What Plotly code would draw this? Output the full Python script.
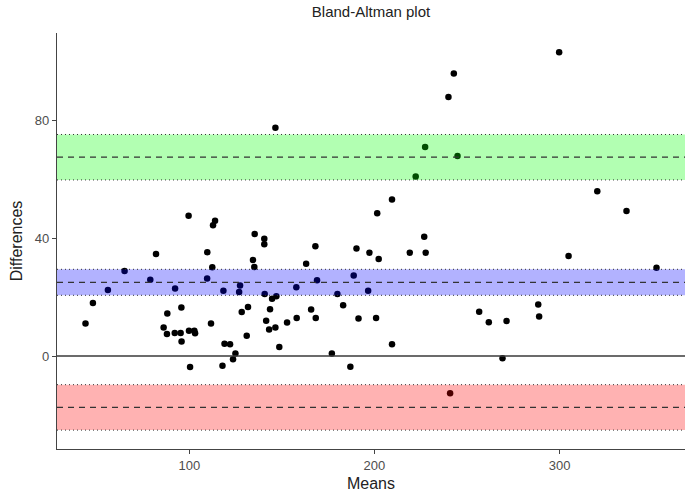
import plotly.graph_objects as go

# Data
means = [99.6, 113.9, 112.8, 82.0, 109.7, 65.0, 112.4, 78.9, 109.6, 56.0,
         92.3, 118.4, 47.9, 88.1, 95.7, 43.9, 111.7, 86.1, 87.9, 92.1,
         95.3, 99.8, 102.7, 103.1, 95.8, 119.0, 122.0, 100.4, 117.9, 201.5,
         135.3, 140.5, 140.5, 168.1, 190.3, 197.3, 202.3, 134.4, 135.1, 163.1,
         188.8, 169.0, 127.4, 126.9, 157.8, 140.7, 196.6, 180.0, 144.7, 147.0,
         131.7, 128.3, 143.6, 165.8, 183.1, 141.5, 143.1, 146.5, 152.8, 158.0,
         168.3, 191.4, 200.9, 131.0, 148.6, 124.9, 123.6, 177.0, 187.0, 209.5,
         209.5, 226.9, 219.1, 227.7, 256.6, 261.8, 271.4, 288.5, 289.0, 269.2,
         320.4, 336.2, 304.9, 352.4, 299.8, 242.9, 240.0, 227.4, 244.9, 222.3,
         146.5, 240.9]
diffs = [47.6, 45.9, 44.3, 34.6, 35.2, 28.8, 30.1, 25.9, 26.3, 22.4,
         22.9, 22.1, 18.0, 14.4, 16.5, 11.0, 11.0, 9.7, 7.5, 7.8,
         7.8, 8.6, 8.6, 7.7, 4.9, 4.2, 4.0, -3.7, -3.3, 48.4,
         41.4, 39.8, 37.9, 37.2, 36.5, 35.0, 32.9, 32.6, 30.2, 31.3,
         27.3, 25.7, 23.9, 21.7, 23.3, 21.0, 22.1, 21.0, 19.4, 20.3,
         16.6, 14.9, 15.9, 15.8, 17.2, 12.0, 9.0, 9.7, 11.4, 12.9,
         12.9, 12.7, 12.9, 6.9, 3.1, 0.9, -1.1, 0.9, -3.6, 4.0,
         53.1, 40.4, 35.0, 35.0, 15.0, 11.5, 11.9, 17.5, 13.4, -0.7,
         55.9, 49.2, 33.9, 29.9, 103.0, 95.8, 87.8, 70.9, 67.8, 60.9,
         77.4, -12.6]

# Bands: (lower CI, estimate, upper CI)
band_names = ["upper", "mean", "lower"]
band_est = [67.4, 25.0, -17.4]
band_lo = [59.7, 20.6, -25.1]
band_hi = [75.1, 29.4, -9.7]
band_fill = ["rgba(0,255,0,0.3)", "rgba(0,0,255,0.3)", "rgba(255,0,0,0.3)"]

x_ticks = [100, 200, 300]
y_ticks = [0, 40, 80]

fig = go.Figure()
fig.add_trace(go.Scatter(
    x=means, y=diffs, mode="markers",
    marker=dict(color="black", size=6.5, line=dict(width=0)),
    showlegend=False, hoverinfo="x+y"))

shapes = []
# zero line
shapes.append(dict(type="line", xref="x domain", x0=0, x1=1, yref="y", y0=0, y1=0,
                   line=dict(color="#3a3a3a", width=1.5), layer="above"))
for lo, est, hi, fc in zip(band_lo, band_est, band_hi, band_fill):
    shapes.append(dict(type="rect", xref="x domain", x0=0, x1=1, yref="y", y0=lo, y1=hi,
                       fillcolor=fc, line=dict(width=0), layer="above"))
    for v in (lo, hi):
        shapes.append(dict(type="line", xref="x domain", x0=0, x1=1, yref="y", y0=v, y1=v,
                           line=dict(color="#333333", width=1, dash="1px,3px"), layer="above"))
    shapes.append(dict(type="line", xref="x domain", x0=0, x1=1, yref="y", y0=est, y1=est,
                       line=dict(color="#333333", width=1.2, dash="6px,5px"), layer="above"))

font_family = "Liberation Sans, Arial, Helvetica, sans-serif"

fig.update_layout(
    width=685, height=502,
    margin=dict(l=57, r=0, t=33, b=53),
    paper_bgcolor="white", plot_bgcolor="white",
    shapes=shapes,
    font=dict(family=font_family, color="#333333"),
    title=dict(text="Bland-Altman plot", x=0.5, xref="paper", xanchor="center",
               y=1 - 12 / 502, yref="container", yanchor="middle",
               font=dict(size=15, color="#222222")),
    xaxis=dict(range=[28.5, 367.8], tickvals=x_ticks, showgrid=False, zeroline=False,
               showline=True, linecolor="#444444", linewidth=1.2,
               ticks="outside", ticklen=4, tickcolor="#444444",
               tickfont=dict(size=13, color="#4D4D4D"),
               title=dict(text="Means", font=dict(size=16, color="#222222"), standoff=6)),
    yaxis=dict(range=[-31.5, 109.5], tickvals=y_ticks, showgrid=False, zeroline=False,
               showline=True, linecolor="#444444", linewidth=1.2,
               ticks="outside", ticklen=4, tickcolor="#444444",
               tickfont=dict(size=13, color="#4D4D4D"),
               title=dict(text="Differences", font=dict(size=16, color="#222222"), standoff=8)),
)

fig.write_html("out.html")
